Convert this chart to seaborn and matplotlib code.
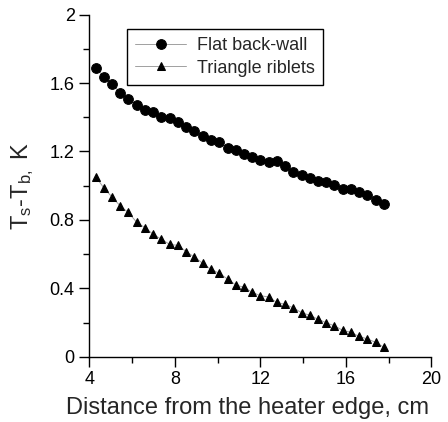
import numpy as np
import matplotlib
matplotlib.use("Agg")
import matplotlib.pyplot as plt
import seaborn as sns
from matplotlib.ticker import MultipleLocator, FuncFormatter

# Distance from the heater edge (cm), shared by both series
distance = [4.30, 4.69, 5.08, 5.45, 5.82, 6.22, 6.61, 6.99, 7.37, 7.76,
            8.15, 8.54, 8.91, 9.31, 9.69, 10.08, 10.47, 10.86, 11.24, 11.61,
            12.00, 12.39, 12.77, 13.16, 13.54, 13.94, 14.33, 14.70, 15.08, 15.46,
            15.86, 16.23, 16.62, 17.01, 17.40, 17.79]

# Ts - Tb (K)
flat_wall = [1.690, 1.637, 1.596, 1.540, 1.509, 1.470, 1.441, 1.431, 1.404, 1.394,
             1.374, 1.343, 1.320, 1.291, 1.267, 1.254, 1.222, 1.207, 1.185, 1.166,
             1.152, 1.139, 1.144, 1.113, 1.081, 1.064, 1.047, 1.029, 1.020, 1.002,
             0.982, 0.979, 0.963, 0.947, 0.916, 0.893]

triangle_riblets = [1.053, 0.985, 0.932, 0.881, 0.844, 0.786, 0.754, 0.716, 0.687, 0.657,
                    0.651, 0.614, 0.583, 0.546, 0.511, 0.488, 0.454, 0.419, 0.406, 0.377,
                    0.357, 0.349, 0.318, 0.306, 0.286, 0.257, 0.242, 0.219, 0.199, 0.181,
                    0.154, 0.143, 0.119, 0.104, 0.084, 0.055]

sns.set_style("ticks")
plt.rcParams.update({
    "font.family": ["Liberation Sans", "DejaVu Sans"],
    "mathtext.default": "regular",
    "axes.linewidth": 1.0,
    "xtick.direction": "out", "ytick.direction": "out",
    "xtick.major.size": 7, "ytick.major.size": 7,
    "xtick.minor.size": 4.3, "ytick.minor.size": 4.3,
    "xtick.major.width": 1.0, "ytick.major.width": 1.0,
    "xtick.minor.width": 1.0, "ytick.minor.width": 1.0,
    "xtick.color": "black", "ytick.color": "black",
    "axes.edgecolor": "black",
})

fig = plt.figure(figsize=(4.48, 4.22), dpi=100)
ax = fig.add_axes([0.1993, 0.1547, 0.7634, 0.8105])

line_kw = dict(color="#a0a0a0", linewidth=0.7, markerfacecolor="black",
               markeredgecolor="black")
sns.lineplot(x=distance, y=flat_wall, marker="o", markersize=7,
             label="Flat back-wall", ax=ax, **line_kw)
sns.lineplot(x=distance, y=triangle_riblets, marker="^", markersize=6,
             label="Triangle riblets", ax=ax, **line_kw)

ax.set_xlim(4, 20)
ax.set_ylim(0, 2)
ax.xaxis.set_major_locator(MultipleLocator(4))
ax.xaxis.set_minor_locator(MultipleLocator(2))
ax.yaxis.set_major_locator(MultipleLocator(0.4))
ax.yaxis.set_minor_locator(MultipleLocator(0.2))
ax.yaxis.set_major_formatter(FuncFormatter(lambda v, p: f"{v:.1f}".rstrip("0").rstrip(".")))
ax.tick_params(labelsize=13)

sns.despine(ax=ax)
ax.set_xlabel("Distance from the heater edge, cm", fontsize=17)
ax.set_ylabel("T$_s$-T$_{b,}$ K", fontsize=17)
ax.xaxis.set_label_coords(0.4626, -0.118)
ax.yaxis.set_label_coords(-0.156, 0.5)

leg = ax.legend(loc="upper left", bbox_to_anchor=(0.11, 0.958), borderaxespad=0,
                fontsize=13, handlelength=2.85, handletextpad=0.6,
                labelspacing=0.3, borderpad=0.45,
                frameon=True, fancybox=False,
                edgecolor="black", framealpha=1, numpoints=1)
leg.get_frame().set_linewidth(1.0)

fig.savefig("out.png", dpi=100)
plt.close(fig)
